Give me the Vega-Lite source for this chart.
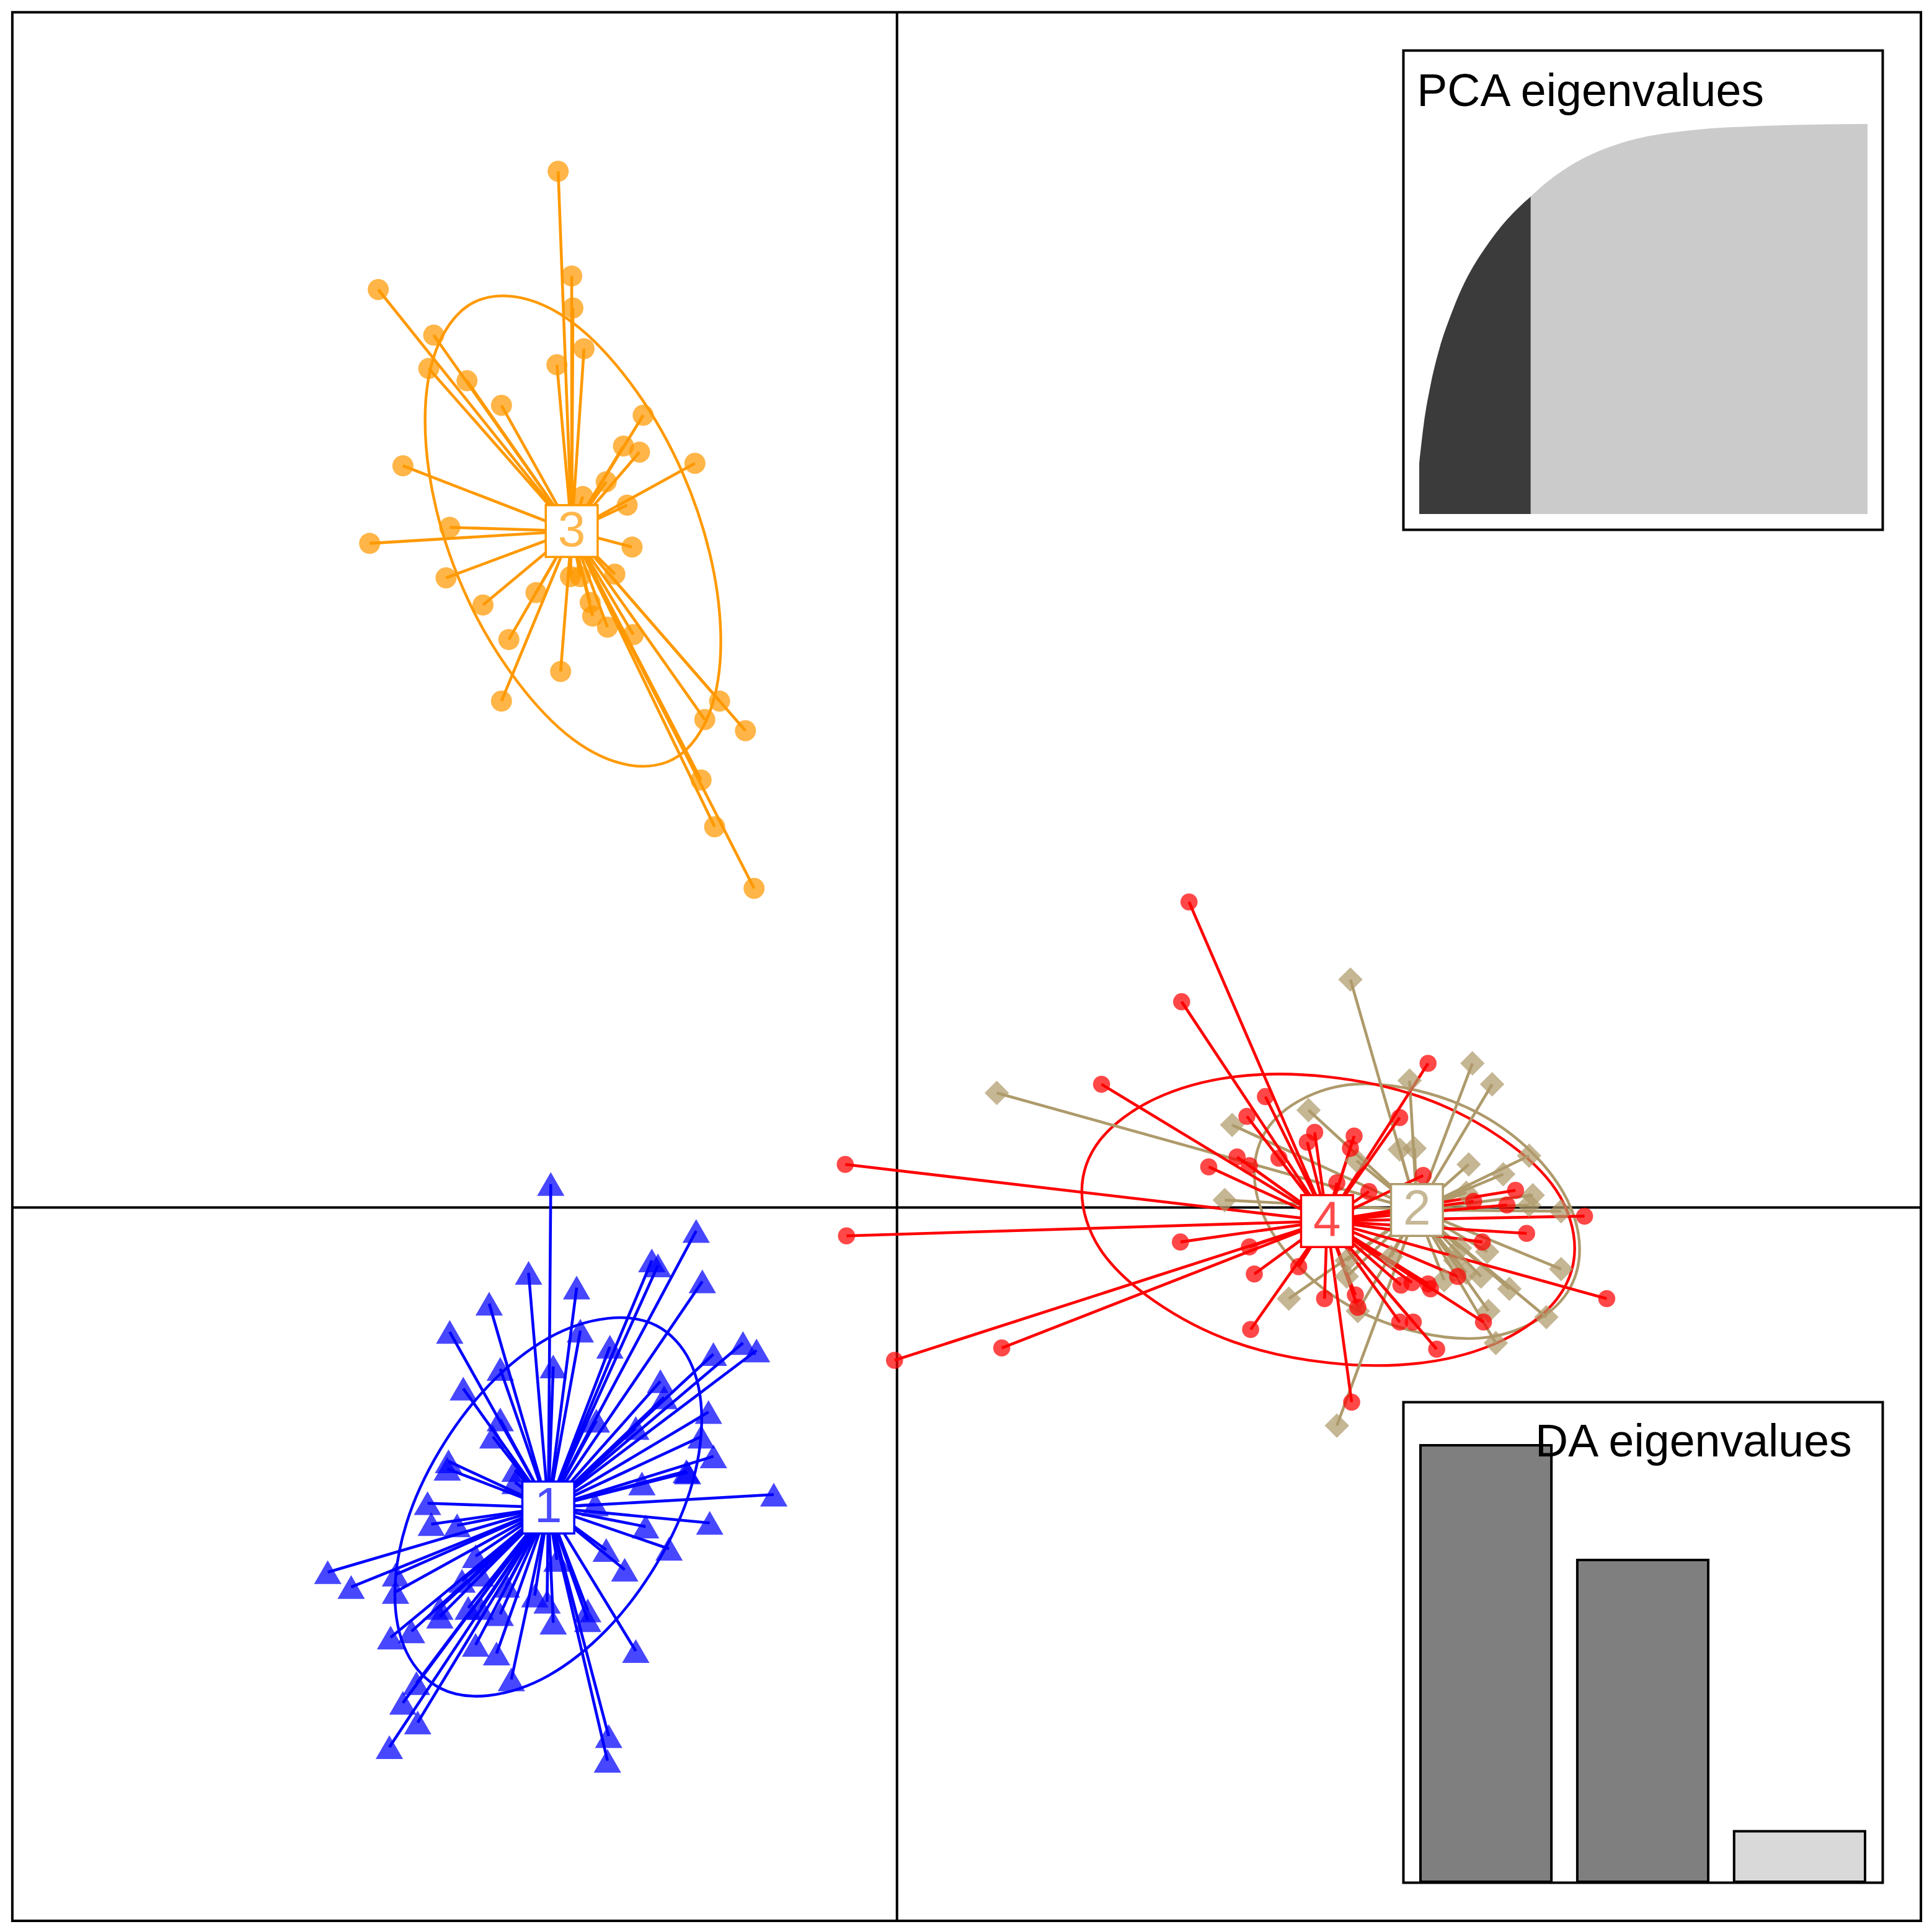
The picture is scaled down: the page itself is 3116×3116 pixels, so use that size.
{"$schema":"https://vega.github.io/schema/vega-lite/v6.json","width":3116,"height":3116,"autosize":{"type":"fit","contains":"padding"},"padding":0,"background":"white","config":{"view":{"stroke":null}},
"datasets":{
"centroids":[{"g":"1","cx":-2.83,"cy":-2.435},{"g":"2","cx":4.22,"cy":-0.02},{"g":"3","cx":-2.64,"cy":5.49},{"g":"4","cx":3.49,"cy":-0.11}],
"refs":[{"x":0,"x2":0,"y":9.7,"y2":-5.79},{"x":-7.18,"x2":8.31,"y":0,"y2":0}],
"boxes":[{"x0":-7.18,"x1":8.31,"y0":-5.79,"y1":9.7},{"x0":4.11,"x1":8.0,"y0":5.5,"y1":9.39},{"x0":4.11,"x1":8.0,"y0":-5.48,"y1":-1.58}],
"labels":[{"label":"PCA eigenvalues","x":4.22,"y":8.94},{"label":"DA eigenvalues","x":5.18,"y":-2.02}],
"pca":[{"pc":1,"v":0.13,"s":"kept"},{"pc":3,"v":0.23,"s":"kept"},{"pc":6,"v":0.33,"s":"kept"},{"pc":10,"v":0.425,"s":"kept"},{"pc":15,"v":0.51,"s":"kept"},{"pc":20,"v":0.58,"s":"kept"},{"pc":25,"v":0.635,"s":"kept"},{"pc":30,"v":0.68,"s":"kept"},{"pc":35,"v":0.72,"s":"kept"},{"pc":40,"v":0.755,"s":"kept"},{"pc":45,"v":0.785,"s":"kept"},{"pc":50.5,"v":0.814,"s":"kept"},{"pc":50.5,"v":0.814,"s":"rest"},{"pc":56,"v":0.843,"s":"rest"},{"pc":62,"v":0.87,"s":"rest"},{"pc":70,"v":0.9,"s":"rest"},{"pc":77,"v":0.921,"s":"rest"},{"pc":84,"v":0.938,"s":"rest"},{"pc":91,"v":0.952,"s":"rest"},{"pc":98,"v":0.963,"s":"rest"},{"pc":106,"v":0.972,"s":"rest"},{"pc":113,"v":0.978,"s":"rest"},{"pc":120,"v":0.983,"s":"rest"},{"pc":127,"v":0.987,"s":"rest"},{"pc":134,"v":0.99,"s":"rest"},{"pc":149,"v":0.994,"s":"rest"},{"pc":163,"v":0.997,"s":"rest"},{"pc":178,"v":0.999,"s":"rest"},{"pc":200,"v":1,"s":"rest"}],
"da":[{"ld":"1","e":3.54,"s":"kept"},{"ld":"2","e":2.61,"s":"kept"},{"ld":"3","e":0.41,"s":"rest"}],
"ellipses":[
{"g":"1","o":0,"x":-1.585,"y":-1.72},{"g":"1","o":1,"x":-1.68,"y":-1.25},{"g":"1","o":2,"x":-1.95,"y":-0.96},{"g":"1","o":3,"x":-2.35,"y":-0.9},{"g":"1","o":4,"x":-2.83,"y":-1.06},{"g":"1","o":5,"x":-3.31,"y":-1.44},{"g":"1","o":6,"x":-3.71,"y":-1.97},{"g":"1","o":7,"x":-3.98,"y":-2.56},{"g":"1","o":8,"x":-4.075,"y":-3.14},{"g":"1","o":9,"x":-3.98,"y":-3.61},{"g":"1","o":10,"x":-3.71,"y":-3.9},{"g":"1","o":11,"x":-3.31,"y":-3.96},{"g":"1","o":12,"x":-2.83,"y":-3.8},{"g":"1","o":13,"x":-2.35,"y":-3.42},{"g":"1","o":14,"x":-1.95,"y":-2.89},{"g":"1","o":15,"x":-1.68,"y":-2.3},
{"g":"3","o":0,"x":-1.43,"y":4.59},{"g":"3","o":1,"x":-1.52,"y":5.31},{"g":"3","o":2,"x":-1.78,"y":6.05},{"g":"3","o":3,"x":-2.17,"y":6.7},{"g":"3","o":4,"x":-2.63,"y":7.18},{"g":"3","o":5,"x":-3.09,"y":7.39},{"g":"3","o":6,"x":-3.48,"y":7.32},{"g":"3","o":7,"x":-3.74,"y":6.96},{"g":"3","o":8,"x":-3.83,"y":6.39},{"g":"3","o":9,"x":-3.74,"y":5.67},{"g":"3","o":10,"x":-3.48,"y":4.93},{"g":"3","o":11,"x":-3.09,"y":4.28},{"g":"3","o":12,"x":-2.63,"y":3.8},{"g":"3","o":13,"x":-2.17,"y":3.59},{"g":"3","o":14,"x":-1.78,"y":3.66},{"g":"3","o":15,"x":-1.52,"y":4.02},
{"g":"2","o":0,"x":5.54,"y":-0.34},{"g":"2","o":1,"x":5.44,"y":0.06},{"g":"2","o":2,"x":5.15,"y":0.45},{"g":"2","o":3,"x":4.73,"y":0.76},{"g":"2","o":4,"x":4.22,"y":0.95},{"g":"2","o":5,"x":3.71,"y":1.0},{"g":"2","o":6,"x":3.29,"y":0.88},{"g":"2","o":7,"x":3.0,"y":0.63},{"g":"2","o":8,"x":2.9,"y":0.28},{"g":"2","o":9,"x":3.0,"y":-0.12},{"g":"2","o":10,"x":3.29,"y":-0.51},{"g":"2","o":11,"x":3.71,"y":-0.82},{"g":"2","o":12,"x":4.22,"y":-1.01},{"g":"2","o":13,"x":4.73,"y":-1.06},{"g":"2","o":14,"x":5.15,"y":-0.94},{"g":"2","o":15,"x":5.44,"y":-0.69},
{"g":"4","o":0,"x":5.5,"y":-0.33},{"g":"4","o":1,"x":5.35,"y":0.14},{"g":"4","o":2,"x":4.91,"y":0.56},{"g":"4","o":3,"x":4.27,"y":0.89},{"g":"4","o":4,"x":3.5,"y":1.06},{"g":"4","o":5,"x":2.73,"y":1.06},{"g":"4","o":6,"x":2.09,"y":0.88},{"g":"4","o":7,"x":1.65,"y":0.55},{"g":"4","o":8,"x":1.5,"y":0.13},{"g":"4","o":9,"x":1.65,"y":-0.34},{"g":"4","o":10,"x":2.09,"y":-0.76},{"g":"4","o":11,"x":2.73,"y":-1.09},{"g":"4","o":12,"x":3.5,"y":-1.26},{"g":"4","o":13,"x":4.27,"y":-1.26},{"g":"4","o":14,"x":4.91,"y":-1.08},{"g":"4","o":15,"x":5.35,"y":-0.75}],
"individuals":[
{"g":"1","x":-2.81,"y":0.19},{"g":"1","x":-1.63,"y":-0.19},{"g":"1","x":-1.99,"y":-0.43},{"g":"1","x":-1.94,"y":-0.47},{"g":"1","x":-1.58,"y":-0.6},{"g":"1","x":-2.99,"y":-0.53},{"g":"1","x":-2.6,"y":-0.65},{"g":"1","x":-3.31,"y":-0.78},{"g":"1","x":-3.63,"y":-1.01},{"g":"1","x":-2.57,"y":-1.0},{"g":"1","x":-2.33,"y":-1.13},{"g":"1","x":-1.25,"y":-1.1},{"g":"1","x":-1.14,"y":-1.16},{"g":"1","x":-1.49,"y":-1.19},{"g":"1","x":-3.22,"y":-1.31},{"g":"1","x":-2.79,"y":-1.29},{"g":"1","x":-1.92,"y":-1.41},{"g":"1","x":-3.52,"y":-1.47},{"g":"1","x":-1.89,"y":-1.54},{"g":"1","x":-3.22,"y":-1.72},{"g":"1","x":-1.53,"y":-1.66},{"g":"1","x":-2.44,"y":-1.73},{"g":"1","x":-2.12,"y":-1.79},{"g":"1","x":-3.28,"y":-1.86},{"g":"1","x":-1.59,"y":-1.86},{"g":"1","x":-1.49,"y":-2.02},{"g":"1","x":-1.7,"y":-2.15},{"g":"1","x":-3.64,"y":-2.06},{"g":"1","x":-3.65,"y":-2.12},{"g":"1","x":-2.07,"y":-2.24},{"g":"1","x":-3.1,"y":-2.13},{"g":"1","x":-3.1,"y":-2.23},{"g":"1","x":-1.0,"y":-2.33},{"g":"1","x":-1.71,"y":-2.14},{"g":"1","x":-3.81,"y":-2.4},{"g":"1","x":-3.78,"y":-2.57},{"g":"1","x":-3.57,"y":-2.58},{"g":"1","x":-1.52,"y":-2.56},{"g":"1","x":-2.04,"y":-2.59},{"g":"1","x":-2.45,"y":-2.41},{"g":"1","x":-1.85,"y":-2.77},{"g":"1","x":-2.36,"y":-2.78},{"g":"1","x":-2.21,"y":-2.94},{"g":"1","x":-4.62,"y":-2.96},{"g":"1","x":-4.43,"y":-3.08},{"g":"1","x":-4.07,"y":-2.98},{"g":"1","x":-4.07,"y":-3.12},{"g":"1","x":-3.42,"y":-2.83},{"g":"1","x":-3.38,"y":-2.98},{"g":"1","x":-3.71,"y":-3.25},{"g":"1","x":-3.71,"y":-3.32},{"g":"1","x":-3.94,"y":-3.44},{"g":"1","x":-4.11,"y":-3.49},{"g":"1","x":-3.48,"y":-3.25},{"g":"1","x":-3.38,"y":-3.25},{"g":"1","x":-3.22,"y":-3.3},{"g":"1","x":-2.94,"y":-3.15},{"g":"1","x":-2.84,"y":-3.2},{"g":"1","x":-2.79,"y":-3.37},{"g":"1","x":-2.51,"y":-3.27},{"g":"1","x":-2.51,"y":-3.35},{"g":"1","x":-3.42,"y":-3.55},{"g":"1","x":-3.25,"y":-3.62},{"g":"1","x":-2.12,"y":-3.6},{"g":"1","x":-3.13,"y":-3.83},{"g":"1","x":-3.9,"y":-3.86},{"g":"1","x":-4.01,"y":-4.02},{"g":"1","x":-3.89,"y":-4.18},{"g":"1","x":-4.12,"y":-4.38},{"g":"1","x":-2.34,"y":-4.29},{"g":"1","x":-2.35,"y":-4.49},{"g":"1","x":-2.76,"y":-2.86},{"g":"1","x":-3.17,"y":-3.07},{"g":"1","x":-3.53,"y":-3.03},
{"g":"3","x":-4.01,"y":6.02},{"g":"3","x":-4.28,"y":5.39},{"g":"3","x":-3.63,"y":5.52},{"g":"3","x":-3.66,"y":5.11},{"g":"3","x":-3.36,"y":4.89},{"g":"3","x":-3.15,"y":4.61},{"g":"3","x":-2.93,"y":4.99},{"g":"3","x":-2.73,"y":4.35},{"g":"3","x":-3.21,"y":4.11},{"g":"3","x":-1.64,"y":6.04},{"g":"3","x":-2.19,"y":5.7},{"g":"3","x":-2.15,"y":5.36},{"g":"3","x":-2.22,"y":6.18},{"g":"3","x":-2.09,"y":6.13},{"g":"3","x":-2.36,"y":5.89},{"g":"3","x":-2.55,"y":5.77},{"g":"3","x":-2.65,"y":5.12},{"g":"3","x":-2.57,"y":5.12},{"g":"3","x":-2.29,"y":5.14},{"g":"3","x":-2.49,"y":4.91},{"g":"3","x":-2.47,"y":4.8},{"g":"3","x":-2.35,"y":4.71},{"g":"3","x":-2.14,"y":4.65},{"g":"3","x":-1.44,"y":4.11},{"g":"3","x":-2.75,"y":8.41},{"g":"3","x":-2.64,"y":7.56},{"g":"3","x":-2.63,"y":7.3},{"g":"3","x":-4.21,"y":7.45},{"g":"3","x":-3.76,"y":7.08},{"g":"3","x":-3.8,"y":6.81},{"g":"3","x":-3.49,"y":6.71},{"g":"3","x":-3.21,"y":6.51},{"g":"3","x":-2.76,"y":6.84},{"g":"3","x":-2.54,"y":6.97},{"g":"3","x":-2.06,"y":6.43},{"g":"3","x":-1.56,"y":3.96},{"g":"3","x":-1.23,"y":3.87},{"g":"3","x":-1.59,"y":3.47},{"g":"3","x":-1.48,"y":3.09},{"g":"3","x":-1.16,"y":2.59},
{"g":"2","x":4.67,"y":1.17},{"g":"2","x":4.83,"y":1.0},{"g":"2","x":4.16,"y":1.03},{"g":"2","x":3.34,"y":0.79},{"g":"2","x":2.72,"y":0.67},{"g":"2","x":4.08,"y":0.47},{"g":"2","x":4.2,"y":0.48},{"g":"2","x":4.64,"y":0.35},{"g":"2","x":3.73,"y":0.38},{"g":"2","x":4.92,"y":0.27},{"g":"2","x":5.13,"y":0.42},{"g":"2","x":5.16,"y":0.1},{"g":"2","x":5.13,"y":0.02},{"g":"2","x":2.66,"y":0.06},{"g":"2","x":5.39,"y":-0.03},{"g":"2","x":4.62,"y":0.12},{"g":"2","x":4.79,"y":-0.36},{"g":"2","x":5.39,"y":-0.5},{"g":"2","x":3.65,"y":-0.43},{"g":"2","x":4.01,"y":-0.4},{"g":"2","x":4.57,"y":-0.33},{"g":"2","x":4.74,"y":-0.56},{"g":"2","x":4.44,"y":-0.59},{"g":"2","x":3.65,"y":-0.56},{"g":"2","x":3.18,"y":-0.74},{"g":"2","x":4.97,"y":-0.66},{"g":"2","x":4.8,"y":-0.84},{"g":"2","x":5.27,"y":-0.89},{"g":"2","x":4.86,"y":-1.1},{"g":"2","x":4.62,"y":-0.53},{"g":"2","x":4.53,"y":-0.43},{"g":"2","x":3.74,"y":-0.84},{"g":"2","x":3.68,"y":1.85},{"g":"2","x":0.81,"y":0.93},{"g":"2","x":3.57,"y":-1.77},
{"g":"4","x":4.31,"y":1.17},{"g":"4","x":2.99,"y":0.9},{"g":"4","x":2.84,"y":0.74},{"g":"4","x":3.39,"y":0.61},{"g":"4","x":3.33,"y":0.53},{"g":"4","x":3.71,"y":0.58},{"g":"4","x":3.68,"y":0.48},{"g":"4","x":4.08,"y":0.73},{"g":"4","x":2.76,"y":0.41},{"g":"4","x":2.86,"y":0.34},{"g":"4","x":2.53,"y":0.33},{"g":"4","x":3.1,"y":0.4},{"g":"4","x":4.27,"y":0.26},{"g":"4","x":3.57,"y":0.2},{"g":"4","x":3.83,"y":0.13},{"g":"4","x":5.02,"y":0.14},{"g":"4","x":4.68,"y":0.05},{"g":"4","x":4.95,"y":0.02},{"g":"4","x":5.58,"y":-0.07},{"g":"4","x":5.11,"y":-0.21},{"g":"4","x":2.3,"y":-0.28},{"g":"4","x":2.86,"y":-0.32},{"g":"4","x":4.75,"y":-0.28},{"g":"4","x":3.26,"y":-0.48},{"g":"4","x":2.9,"y":-0.54},{"g":"4","x":4.55,"y":-0.56},{"g":"4","x":3.47,"y":-0.74},{"g":"4","x":3.72,"y":-0.71},{"g":"4","x":3.74,"y":-0.81},{"g":"4","x":4.09,"y":-0.63},{"g":"4","x":4.18,"y":-0.61},{"g":"4","x":4.33,"y":-0.66},{"g":"4","x":4.31,"y":-0.62},{"g":"4","x":2.87,"y":-0.99},{"g":"4","x":4.08,"y":-0.93},{"g":"4","x":4.19,"y":-0.93},{"g":"4","x":4.76,"y":-0.93},{"g":"4","x":4.38,"y":-1.15},{"g":"4","x":5.76,"y":-0.74},{"g":"4","x":2.37,"y":2.48},{"g":"4","x":2.31,"y":1.67},{"g":"4","x":1.66,"y":1.0},{"g":"4","x":-0.42,"y":0.35},{"g":"4","x":-0.41,"y":-0.23},{"g":"4","x":-0.02,"y":-1.24},{"g":"4","x":0.85,"y":-1.14},{"g":"4","x":3.69,"y":-1.58}]
},
"layer":[
{"layer":[
{"data":{"name":"boxes"},"mark":{"type":"rect","fill":"white","stroke":"black","strokeWidth":4},"encoding":{"x":{"field":"x0","type":"quantitative","scale":{"domain":[-7.28,8.4],"nice":false,"zero":false},"axis":null},"x2":{"field":"x1"},"y":{"field":"y0","type":"quantitative","scale":{"domain":[-5.88,9.8],"nice":false,"zero":false},"axis":null},"y2":{"field":"y1"}}},
{"data":{"name":"refs"},"mark":{"type":"rule","color":"black","strokeWidth":4},"encoding":{"x":{"field":"x","type":"quantitative","scale":{"domain":[-7.28,8.4],"nice":false,"zero":false},"axis":null},"x2":{"field":"x2"},"y":{"field":"y","type":"quantitative","scale":{"domain":[-5.88,9.8],"nice":false,"zero":false},"axis":null},"y2":{"field":"y2"}}},
{"data":{"name":"ellipses"},"mark":{"type":"line","interpolate":"cardinal-closed","strokeWidth":4.4},"encoding":{"x":{"field":"x","type":"quantitative","scale":{"domain":[-7.28,8.4],"nice":false,"zero":false},"axis":null},"y":{"field":"y","type":"quantitative","scale":{"domain":[-5.88,9.8],"nice":false,"zero":false},"axis":null},"order":{"field":"o"},"color":{"field":"g","type":"nominal","legend":null,"scale":{"domain":["1","2","3","4"],"range":["#0000FF","#AE9A6B","#FF9900","#FF0000"]}}}},
{"data":{"name":"individuals"},"transform":[{"lookup":"g","from":{"data":{"name":"centroids"},"key":"g","fields":["cx","cy"]}}],"mark":{"type":"rule","strokeWidth":4.6},"encoding":{"x":{"field":"x","type":"quantitative","scale":{"domain":[-7.28,8.4],"nice":false,"zero":false},"axis":null},"x2":{"field":"cx"},"y":{"field":"y","type":"quantitative","scale":{"domain":[-5.88,9.8],"nice":false,"zero":false},"axis":null},"y2":{"field":"cy"},"color":{"field":"g","type":"nominal","legend":null,"scale":{"domain":["1","2","3","4"],"range":["#0000FF","#AE9A6B","#FF9900","#FF0000"]}}}},
{"data":{"name":"individuals"},"mark":{"type":"point","filled":true,"opacity":0.72},"encoding":{"x":{"field":"x","type":"quantitative","scale":{"domain":[-7.28,8.4],"nice":false,"zero":false},"axis":null},"y":{"field":"y","type":"quantitative","scale":{"domain":[-5.88,9.8],"nice":false,"zero":false},"axis":null},"color":{"field":"g","type":"nominal","legend":null,"scale":{"domain":["1","2","3","4"],"range":["#0000FF","#AE9A6B","#FF9900","#FF0000"]}},"shape":{"field":"g","type":"nominal","legend":null,"scale":{"domain":["1","2","3","4"],"range":["triangle-up","diamond","circle","circle"]}},"size":{"field":"g","type":"nominal","legend":null,"scale":{"domain":["1","2","3","4"],"range":[1950,760,1200,650]}}}},
{"data":{"name":"centroids"},"mark":{"type":"point","shape":"square","filled":false,"fill":"white","fillOpacity":1,"opacity":1,"size":7000,"strokeWidth":3.5},"encoding":{"x":{"field":"cx","type":"quantitative","scale":{"domain":[-7.28,8.4],"nice":false,"zero":false},"axis":null},"y":{"field":"cy","type":"quantitative","scale":{"domain":[-5.88,9.8],"nice":false,"zero":false},"axis":null},"stroke":{"field":"g","type":"nominal","legend":null,"scale":{"domain":["1","2","3","4"],"range":["#0000FF","#AE9A6B","#FF9900","#FF0000"]}}}},
{"data":{"name":"centroids"},"mark":{"type":"text","font":"Liberation Sans","fontSize":80,"opacity":0.7,"baseline":"middle","align":"center"},"encoding":{"x":{"field":"cx","type":"quantitative","scale":{"domain":[-7.28,8.4],"nice":false,"zero":false},"axis":null},"y":{"field":"cy","type":"quantitative","scale":{"domain":[-5.88,9.8],"nice":false,"zero":false},"axis":null},"text":{"field":"g"},"color":{"field":"g","type":"nominal","legend":null,"scale":{"domain":["1","2","3","4"],"range":["#0000FF","#AE9A6B","#FF9900","#FF0000"]}}}}
]},
{"data":{"name":"pca"},"mark":{"type":"area","interpolate":"monotone"},"encoding":{"x":{"field":"pc","type":"quantitative","scale":{"domain":[1,200],"range":[2289,3012],"nice":false,"zero":false},"axis":null},"y":{"field":"v","type":"quantitative","stack":null,"scale":{"domain":[0,1],"range":[829,200],"nice":false},"axis":null},"color":{"field":"s","type":"nominal","legend":null,"scale":{"domain":["kept","rest"],"range":["#3B3B3B","#CBCBCB"]}}}},
{"data":{"name":"da"},"mark":{"type":"bar","stroke":"black","strokeWidth":4},"encoding":{"x":{"field":"ld","type":"ordinal","scale":{"domain":["1","2","3"],"range":[2291,3008],"paddingInner":0.165,"paddingOuter":0},"axis":null},"y":{"field":"e","type":"quantitative","stack":null,"scale":{"domain":[0,3.54],"range":[3035,2331],"nice":false},"axis":null},"color":{"field":"s","type":"nominal","legend":null,"scale":{"domain":["kept","rest"],"range":["#7F7F7F","#D9D9D9"]}}}},
{"data":{"name":"labels"},"mark":{"type":"text","font":"Liberation Sans","fontSize":73.5,"align":"left","baseline":"alphabetic","color":"black"},"encoding":{"x":{"field":"x","type":"quantitative","scale":{"domain":[-7.28,8.4],"nice":false,"zero":false},"axis":null},"y":{"field":"y","type":"quantitative","scale":{"domain":[-5.88,9.8],"nice":false,"zero":false},"axis":null},"text":{"field":"label"}}}
],
"resolve":{"scale":{"x":"independent","y":"independent","color":"independent"}}}
